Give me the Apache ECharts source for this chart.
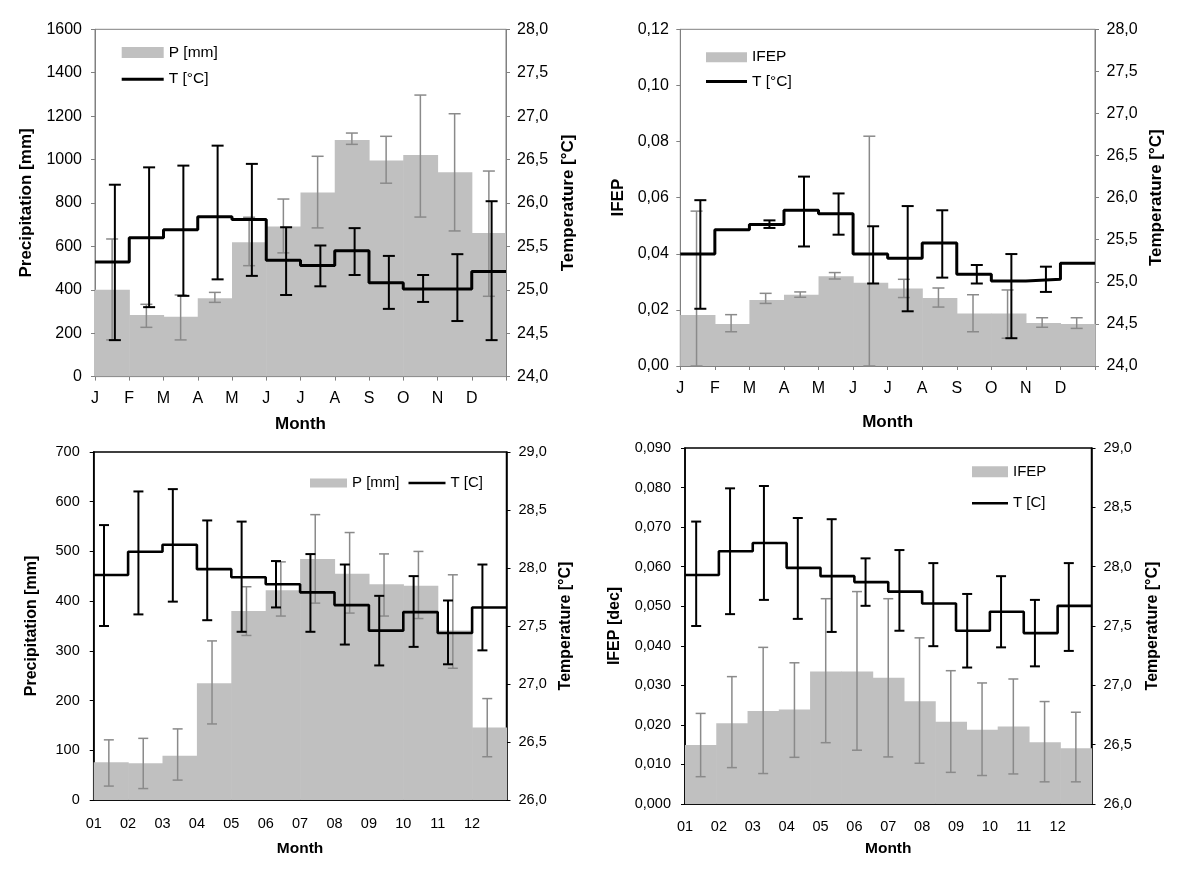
<!DOCTYPE html>
<html>
<head>
<meta charset="utf-8">
<script src="https://cdn.jsdelivr.net/npm/echarts@6/dist/echarts.min.js"></script>
<style>
html,body{margin:0;padding:0;background:#fff;}
#chart{width:1200px;height:878px;}
</style>
</head>
<body>
<div id="chart"></div>
<script>
// ---------- data ----------
const monthsA = ['J','F','M','A','M','J','J','A','S','O','N','D'];
const monthsB = ['01','02','03','04','05','06','07','08','09','10','11','12'];

// Panel 1 (top-left)
const p1P   = [400,284,276,361,619,691,848,1090,996,1021,941,662];
const p1Plo = [169,227,169,342,511,570,685,1070,891,735,671,370];
const p1Phi = [634,333,376,388,734,818,1015,1122,1107,1297,1211,947];
const p1T   = [25.32,25.60,25.69,25.84,25.81,25.34,25.28,25.45,25.08,25.01,25.01,25.21];
const p1Tlo = [24.42,24.80,24.93,25.12,25.16,24.94,25.04,25.17,24.78,24.86,24.64,24.42];
const p1Thi = [26.21,26.41,26.43,26.66,26.45,25.72,25.51,25.71,25.39,25.17,25.41,26.02];

// Panel 2 (top-right)
const p2I   = [0.0182,0.0150,0.0235,0.0254,0.0320,0.0297,0.0276,0.0242,0.0187,0.0187,0.0153,0.0150];
const p2Ilo = [0,0.0122,0.0223,0.0245,0.0310,0,0.0244,0.0210,0.0122,0.0099,0.0138,0.0134];
const p2Ihi = [0.0552,0.0183,0.0259,0.0264,0.0333,0.0819,0.0309,0.0278,0.0254,0.0271,0.0172,0.0172];
const p2T   = [25.33,25.62,25.68,25.85,25.81,25.33,25.28,25.46,25.09,25.01,25.03,25.22];
const p2Tlo = [24.68,null,25.64,25.42,25.56,24.98,24.65,25.05,24.98,24.33,24.88,null];
const p2Thi = [25.97,null,25.73,26.25,26.05,25.66,25.90,25.85,25.20,25.33,25.18,null];

// Panel 3 (bottom-left)
const p3P   = [76,74,89,235,380,422,485,455,434,431,341,146];
const p3Plo = [28,23,40,153,331,370,396,376,370,365,265,87];
const p3Phi = [121,124,143,320,429,479,574,538,495,500,453,204];
const p3T   = [27.94,28.14,28.20,27.99,27.92,27.86,27.79,27.68,27.46,27.62,27.44,27.66];
const p3Tlo = [27.50,27.60,27.71,27.55,27.45,27.66,27.45,27.34,27.16,27.32,27.17,27.29];
const p3Thi = [28.37,28.66,28.68,28.41,28.40,28.06,28.12,28.03,27.76,27.93,27.72,28.03];

// Panel 4 (bottom-right) — 13 IFEP steps
const p4I   = [0.0149,0.0204,0.0235,0.0239,0.0335,0.0335,0.0319,0.0260,0.0208,0.0188,0.0196,0.0156,0.0141];
const p4Ilo = [0.0069,0.0092,0.0077,0.0118,0.0155,0.0136,0.0119,0.0103,0.0080,0.0072,0.0076,0.0056,0.0056];
const p4Ihi = [0.0229,0.0322,0.0396,0.0357,0.0519,0.0537,0.0519,0.0420,0.0337,0.0306,0.0316,0.0259,0.0232];
const p4T   = [27.93,28.13,28.20,27.99,27.92,27.87,27.79,27.69,27.46,27.62,27.44,27.67];
const p4Tlo = [27.50,27.60,27.72,27.56,27.45,27.67,27.46,27.33,27.15,27.32,27.16,27.29];
const p4Thi = [28.38,28.66,28.68,28.41,28.40,28.07,28.14,28.03,27.77,27.92,27.72,28.03];

// ---------- helpers ----------
const FONT = '"Liberation Sans", Arial, sans-serif';
const BAR = '#c0c0c0';
const ERRG = '#8a8a8a';
const fmt = d => v => v.toFixed(d).replace('.', ',');

function barRender(n){
  return function(params, api){
    const i = api.value(0), v = api.value(1), w = 12 / n;
    const a = api.coord([i * w, v]);
    const b = api.coord([(i + 1) * w, 0]);
    return {type:'rect', shape:{x:a[0], y:a[1], width:b[0]-a[0]+0.6, height:b[1]-a[1]},
            style:{fill:BAR}};
  };
}
function errRender(off, n, cap, color, lw){
  return function(params, api){
    const i = api.value(0), lo = api.value(1), hi = api.value(2);
    const x = (i + off) * 12 / n;
    const a = api.coord([x, hi]);
    const b = api.coord([x, lo]);
    const st = {stroke:color, lineWidth:lw};
    return {type:'group', children:[
      {type:'line', shape:{x1:a[0], y1:a[1], x2:b[0], y2:b[1]}, style:st},
      {type:'line', shape:{x1:a[0]-cap, y1:a[1], x2:a[0]+cap, y2:a[1]}, style:st},
      {type:'line', shape:{x1:b[0]-cap, y1:b[1], x2:b[0]+cap, y2:b[1]}, style:st}
    ]};
  };
}
const barData = arr => arr.map((v, i) => [i, v]);
const errData = (lo, hi) => lo.map((l, i) => [i, l, hi[i]]).filter(d => d[1] !== null && d[2] !== null);
const stepData = arr => arr.map((v, i) => [i, v]).concat([[arr.length, arr[arr.length - 1]]]);
// legend icon: a thin horizontal bar inside a w x h box
const lineIcon = (w, h, t) => 'path://M0,0 M0,' + ((h - t) / 2) + ' L' + w + ',' + ((h - t) / 2) +
  ' L' + w + ',' + ((h + t) / 2) + ' L0,' + ((h + t) / 2) + ' Z M' + w + ',' + h;

function makeX(g, months, cfg){
  return {
    type:'value', gridIndex:g, min:0, max:12, interval:1,
    name:'Month', nameLocation:'middle', nameGap:cfg.nameGap,
    nameTextStyle:{fontFamily:FONT, fontWeight:'bold', fontSize:cfg.nameSize, color:'#000'},
    axisLine:{show:true, lineStyle:{color:cfg.axisColor, width:cfg.axisWidth}},
    axisTick:{show:cfg.ticks, length:4, lineStyle:{color:cfg.axisColor}},
    splitLine:{show:false},
    axisLabel:{margin:cfg.labelMargin, fontFamily:FONT, fontSize:cfg.labelSize, color:'#000',
               formatter: v => (months[v] !== undefined ? months[v] : '')}
  };
}
function makeY(g, pos, min, max, interval, dec, name, cfg, margin, gap){
  return {
    type:'value', gridIndex:g, position:pos, min:min, max:max, interval:interval,
    name:name, nameLocation:'middle', nameGap:gap, nameRotate:90,
    nameTextStyle:{fontFamily:FONT, fontWeight:'bold', fontSize:cfg.nameSize, color:'#000'},
    axisLine:{show:true, onZero:false, lineStyle:{color:cfg.axisColor, width:cfg.axisWidth}},
    axisTick:{show:true, length:4, lineStyle:{color:cfg.axisColor}},
    splitLine:{show:false},
    axisLabel:{margin:margin, fontFamily:FONT, fontSize:cfg.labelSize, color:'#000', formatter:fmt(dec)}
  };
}

const topCfg = {axisColor:'#808080', axisWidth:1, ticks:true, labelSize:16, nameSize:17};
const botCfg = {axisColor:'#000000', axisWidth:1.5, ticks:false, labelSize:14.5, nameSize:16};

const grids = [
  {left:95,  top:29.3, width:411,   height:347.3},
  {left:680.3, top:29.3, width:414.7, height:336.7},
  {left:93.7, top:452, width:412.8, height:348},
  {left:685, top:448, width:406.5, height:356}
].map((g, k) => Object.assign({show:true, backgroundColor:'transparent',
  borderColor: k < 2 ? '#808080' : '#000', borderWidth: k < 2 ? 1 : 1.5,
  containLabel:false, outerBoundsMode:'none'}, g));

const xAxes = [
  makeX(0, monthsA, Object.assign({nameGap:39, labelMargin:14}, topCfg)),
  makeX(1, monthsA, Object.assign({nameGap:48, labelMargin:15}, topCfg)),
  makeX(2, monthsB, Object.assign({nameGap:41, labelMargin:16}, botCfg, {nameSize:15.5})),
  makeX(3, monthsB, Object.assign({nameGap:37, labelMargin:15}, botCfg, {nameSize:15.5}))
];
const yAxes = [
  makeY(0, 'left', 0, 1600, 200, 0, 'Precipitation [mm]', topCfg, 13, 60),
  makeY(0, 'right', 24, 28, 0.5, 1, 'Temperature [°C]', topCfg, 11, 54),
  makeY(1, 'left', 0, 0.12, 0.02, 2, 'IFEP', topCfg, 11.5, 53),
  makeY(1, 'right', 24, 28, 0.5, 1, 'Temperature [°C]', topCfg, 11.5, 53),
  makeY(2, 'left', 0, 700, 100, 0, 'Precipitation [mm]', botCfg, 14, 54),
  makeY(2, 'right', 26, 29, 0.5, 1, 'Temperature [°C]', botCfg, 12, 51),
  makeY(3, 'left', 0, 0.09, 0.01, 3, 'IFEP [dec]', botCfg, 14, 62),
  makeY(3, 'right', 26, 29, 0.5, 1, 'Temperature [°C]', botCfg, 12, 53)
];

function panel(g, bars, n, lo, hi, pOff, T, Tlo, Thi, tOff, barName, tName, bigT){
  const cap = bigT ? 6 : 5;
  return [
    {type:'custom', name:barName, xAxisIndex:g, yAxisIndex:2*g, z:1, clip:true,
     itemStyle:{color:BAR}, renderItem:barRender(n), encode:{x:0, y:1}, data:barData(bars)},
    {type:'custom', name:barName + ' error ' + g, xAxisIndex:g, yAxisIndex:2*g, z:2,
     itemStyle:{color:ERRG}, renderItem:errRender(pOff, n, cap, ERRG, 1.5), encode:{x:0, y:[1,2]},
     data:errData(lo, hi)},
    {type:'line', name:tName, xAxisIndex:g, yAxisIndex:2*g+1, z:3, step:'end', symbol:'none',
     lineStyle:{color:'#000', width: bigT ? 3 : 2.6}, itemStyle:{color:'#000'},
     data:stepData(T), animation:false},
    {type:'custom', name:tName + ' error ' + g, xAxisIndex:g, yAxisIndex:2*g+1, z:4,
     itemStyle:{color:'#000'}, renderItem:errRender(tOff, 12, cap, '#000', 2), encode:{x:0, y:[1,2]},
     data:errData(Tlo, Thi)}
  ];
}

const series = [].concat(
  panel(0, p1P, 12, p1Plo, p1Phi, 0.5, p1T, p1Tlo, p1Thi, 0.58, 'P [mm]', 'T [°C]', true),
  panel(1, p2I, 12, p2Ilo, p2Ihi, 0.47, p2T, p2Tlo, p2Thi, 0.58, 'IFEP', 'T [°C]', true),
  panel(2, p3P, 12, p3Plo, p3Phi, 0.44, p3T, p3Tlo, p3Thi, 0.30, 'P [mm]', 'T [C]', false),
  panel(3, p4I, 13, p4Ilo, p4Ihi, 0.5, p4T, p4Tlo, p4Thi, 0.33, 'IFEP', 'T [C]', false)
);

const legTxt = size => ({fontFamily:FONT, fontSize:size, color:'#000', lineHeight:15});
const legends = [
  {orient:'vertical', left:121.7, top:44.5, padding:0, itemWidth:42, itemHeight:11, itemGap:10.7,
   selectedMode:false, textStyle:legTxt(15.5),
   data:[{name:'P [mm]', icon:'rect'}, {name:'T [°C]', icon:lineIcon(42, 11, 3)}]},
  {orient:'vertical', left:706, top:49.2, padding:0, itemWidth:41, itemHeight:10, itemGap:8.3,
   selectedMode:false, textStyle:legTxt(15.5),
   data:[{name:'IFEP', icon:'rect'}, {name:'T [°C]', icon:lineIcon(41, 10, 3)}]},
  {orient:'horizontal', left:310, top:475.5, padding:0, itemWidth:37, itemHeight:9, itemGap:9,
   selectedMode:false, textStyle:legTxt(15),
   data:[{name:'P [mm]', icon:'rect'}, {name:'T [C]', icon:lineIcon(37, 9, 2.6)}]},
  {orient:'vertical', left:972, top:464.2, padding:0, itemWidth:36, itemHeight:11, itemGap:16.6,
   selectedMode:false, textStyle:legTxt(15),
   data:[{name:'IFEP', icon:'rect'}, {name:'T [C]', icon:lineIcon(36, 11, 2.6)}]}
];

const chart = echarts.init(document.getElementById('chart'), null, {renderer:'canvas'});
chart.setOption({
  backgroundColor:'#fff',
  animation:false,
  textStyle:{fontFamily:FONT},
  grid:grids, xAxis:xAxes, yAxis:yAxes, legend:legends, series:series
});
</script>
</body>
</html>
